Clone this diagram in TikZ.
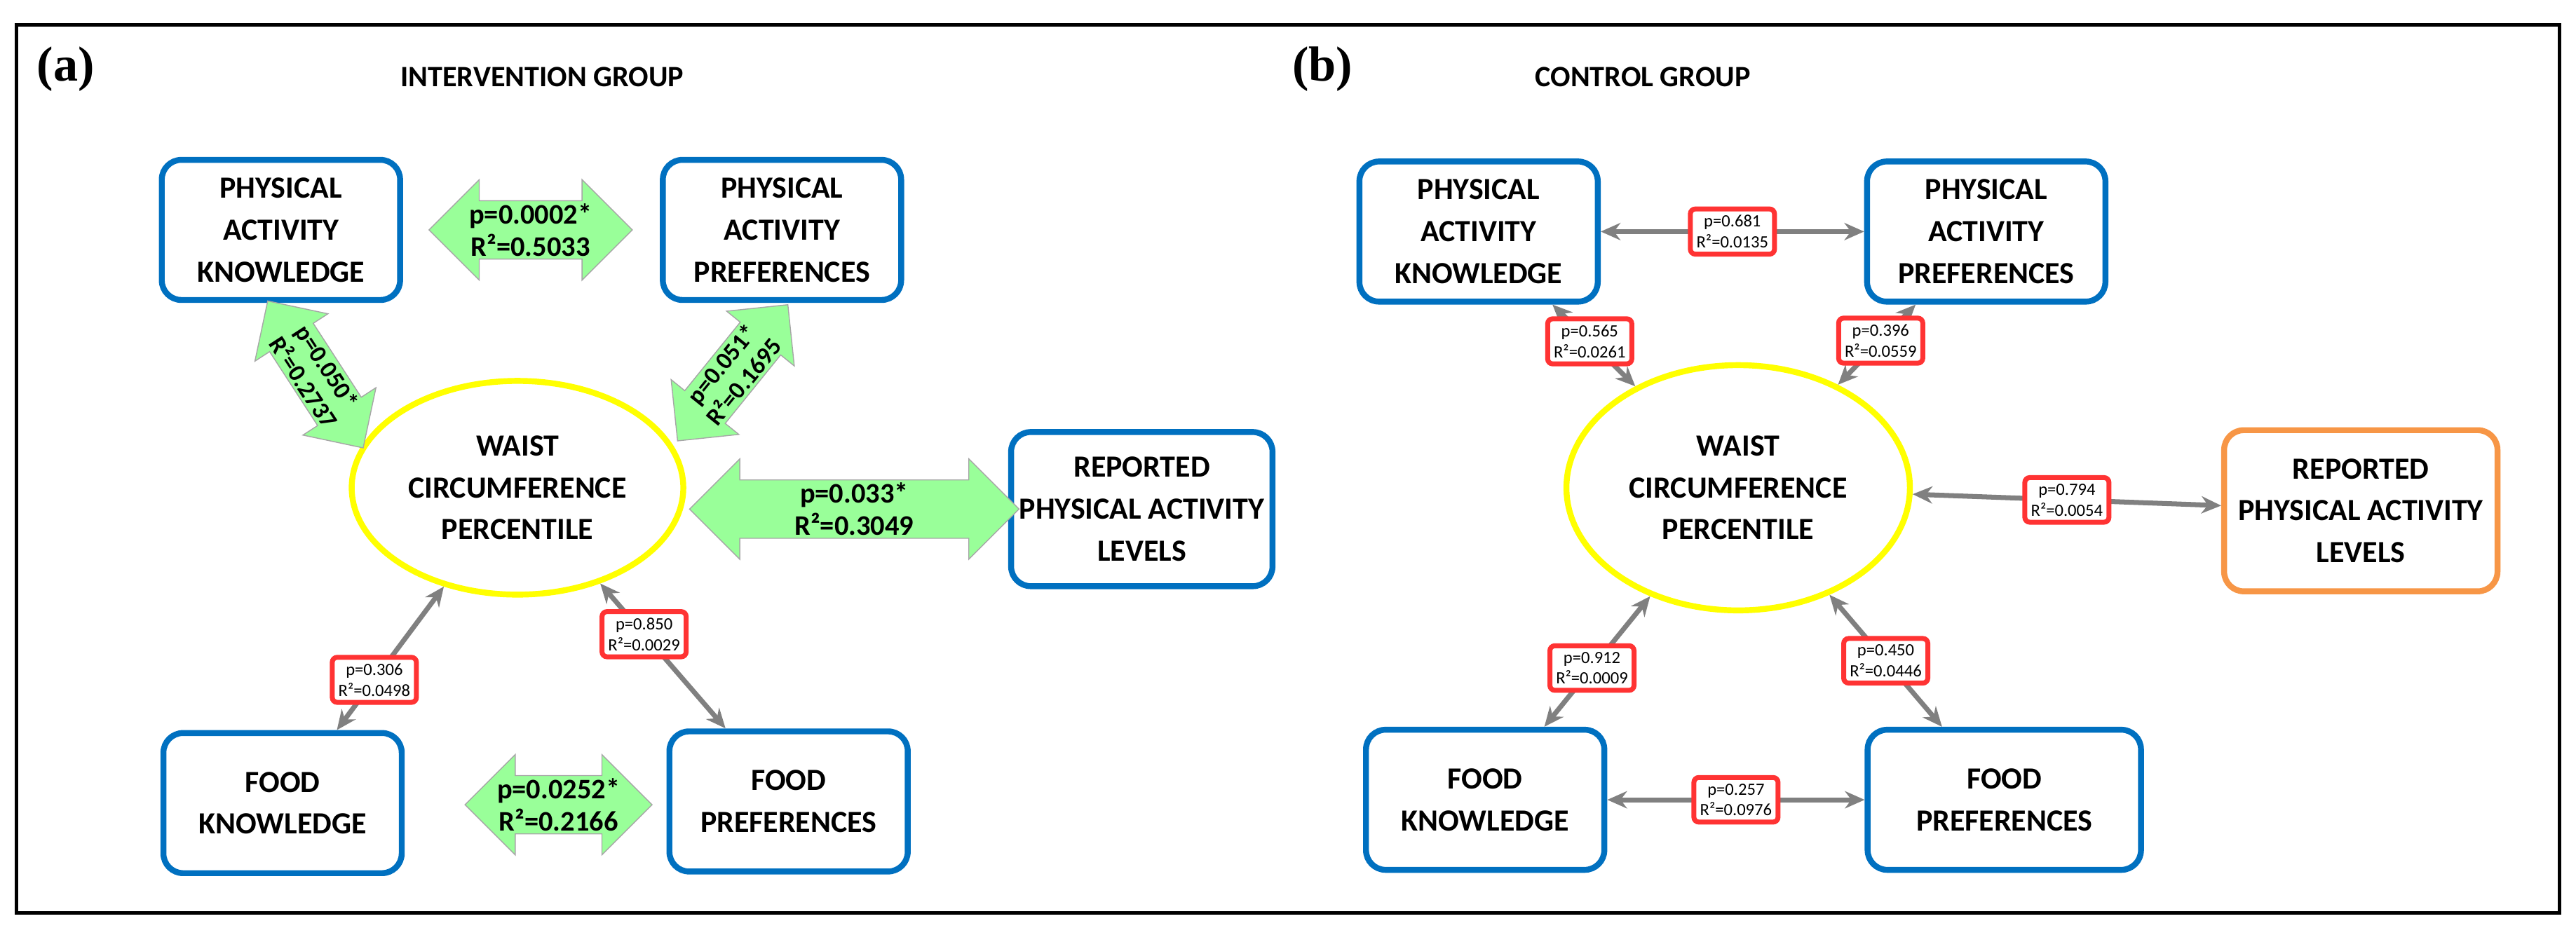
\documentclass[tikz,border=0pt]{standalone}
\usepackage{fontspec}
\setmainfont{Carlito}
\newfontfamily\tagfont{Liberation Serif}
\usetikzlibrary{arrows.meta,positioning,shapes.geometric,shapes.arrows}
\definecolor{boxblue}{RGB}{0,112,192}
\definecolor{ovalyellow}{RGB}{255,255,0}
\definecolor{arrgreen}{RGB}{153,255,153}
\definecolor{boxorange}{RGB}{247,150,70}
\begin{document}
\begin{tikzpicture}[x=0.02343cm, y=-0.02343cm,
    box/.style={draw=boxblue, line width=2.4pt, rounded corners=8pt, fill=white, align=center,
      minimum width=3.4cm, minimum height=2.0cm, font=\fontsize{12.5}{17}\selectfont\bfseries},
    oval/.style={draw=ovalyellow, line width=2.4pt, ellipse, align=center,
      font=\fontsize{12.5}{17}\selectfont\bfseries},
    big/.style={draw=black!35, fill=arrgreen, double arrow, align=center,
      double arrow head extend=0.3cm, inner sep=1pt, font=\fontsize{11.5}{13}\selectfont\bfseries},
    conn/.style={draw=black!50, line width=2pt, {Stealth[length=8pt,width=7pt]}-{Stealth[length=8pt,width=7pt]}},
    lbl/.style={draw=red!80, fill=white, rounded corners=2pt, align=center, inner sep=2.5pt,
      font=\fontsize{7}{8.5}\selectfont}
  ]
    \useasboundingbox (0,0) rectangle (1568,569);
    \draw[line width=1.5pt] (10,15) rectangle (1558,556);
    % intervention group
    \node[font=\fontsize{20}{20}\selectfont\bfseries\tagfont] (tagA) at (40,42) {(a)};
    \node[font=\fontsize{12}{14}\selectfont\bfseries] (titleA) at (330,47) {INTERVENTION GROUP};
    \node[box] (pakA) at (171,140) {PHYSICAL\\ACTIVITY\\KNOWLEDGE};
    \node[box] (papA) at (476,140) {PHYSICAL\\ACTIVITY\\PREFERENCES};
    \node[oval, minimum width=4.45cm, minimum height=3.05cm] (wcpA) at (315,297) {WAIST\\CIRCUMFERENCE\\PERCENTILE};
    \node[box, minimum width=3.3cm, minimum height=2.2cm] (rpalA) at (695,310) {REPORTED\\PHYSICAL ACTIVITY\\LEVELS};
    \node[box] (fkA) at (172,489) {FOOD\\KNOWLEDGE};
    \node[box] (fpA) at (480,488) {FOOD\\PREFERENCES};
    \node[big, minimum height=2.9cm, minimum width=1.05cm] (gTop) at (323,140) {p=0.0002*\\R²=0.5033};
    \node[big, minimum height=2.5cm, minimum width=1.1cm, double arrow head extend=0.25cm, rotate=-57, font=\fontsize{10}{11.5}\selectfont\bfseries] (gLeft) at (192,228) {p=0.050*\\R²=0.2737};
    \node[big, minimum height=2.5cm, minimum width=1.1cm, double arrow head extend=0.25cm, rotate=51, font=\fontsize{10}{11.5}\selectfont\bfseries] (gRight) at (446,227) {p=0.051*\\R²=0.1695};
    \node[big, minimum height=4.7cm, minimum width=1.15cm] (gMid) at (520,310) {p=0.033*\\R²=0.3049};
    \node[big, minimum height=2.4cm, minimum width=1.05cm] (gBot) at (340,490) {p=0.0252*\\R²=0.2166};
    \draw[conn] (wcpA) -- node[lbl, pos=0.65] (lFkA) {p=0.306\\R²=0.0498} (fkA);
    \draw[conn] (wcpA) -- node[lbl, pos=0.35] (lFpA) {p=0.850\\R²=0.0029} (fpA);
    % control group
    \node[font=\fontsize{20}{20}\selectfont\bfseries\tagfont] (tagB) at (805,42) {(b)};
    \node[font=\fontsize{12}{14}\selectfont\bfseries] (titleB) at (1000,47) {CONTROL GROUP};
    \node[box] (pakB) at (900,141) {PHYSICAL\\ACTIVITY\\KNOWLEDGE};
    \node[box] (papB) at (1209,141) {PHYSICAL\\ACTIVITY\\PREFERENCES};
    \node[oval, minimum width=4.9cm, minimum height=3.5cm] (wcpB) at (1058,297) {WAIST\\CIRCUMFERENCE\\PERCENTILE};
    \node[box, draw=boxorange, minimum width=3.9cm, minimum height=2.3cm] (rpalB) at (1437,311) {REPORTED\\PHYSICAL ACTIVITY\\LEVELS};
    \node[box] (fkB) at (904,487) {FOOD\\KNOWLEDGE};
    \node[box, minimum width=3.9cm] (fpB) at (1220,487) {FOOD\\PREFERENCES};
    \draw[conn] (pakB) -- node[lbl] (lTopB) {p=0.681\\R²=0.0135} (papB);
    \draw[conn] (wcpB) -- node[lbl, pos=0.55] (lPakB) {p=0.565\\R²=0.0261} (pakB);
    \draw[conn] (wcpB) -- node[lbl, pos=0.55] (lPapB) {p=0.396\\R²=0.0559} (papB);
    \draw[conn] (wcpB) -- node[lbl, pos=0.5] (lRpalB) {p=0.794\\R²=0.0054} (rpalB);
    \draw[conn] (wcpB) -- node[lbl, pos=0.55] (lFkB) {p=0.912\\R²=0.0009} (fkB);
    \draw[conn] (wcpB) -- node[lbl, pos=0.5] (lFpB) {p=0.450\\R²=0.0446} (fpB);
    \draw[conn] (fkB) -- node[lbl] (lBotB) {p=0.257\\R²=0.0976} (fpB);
\end{tikzpicture}
\end{document}
